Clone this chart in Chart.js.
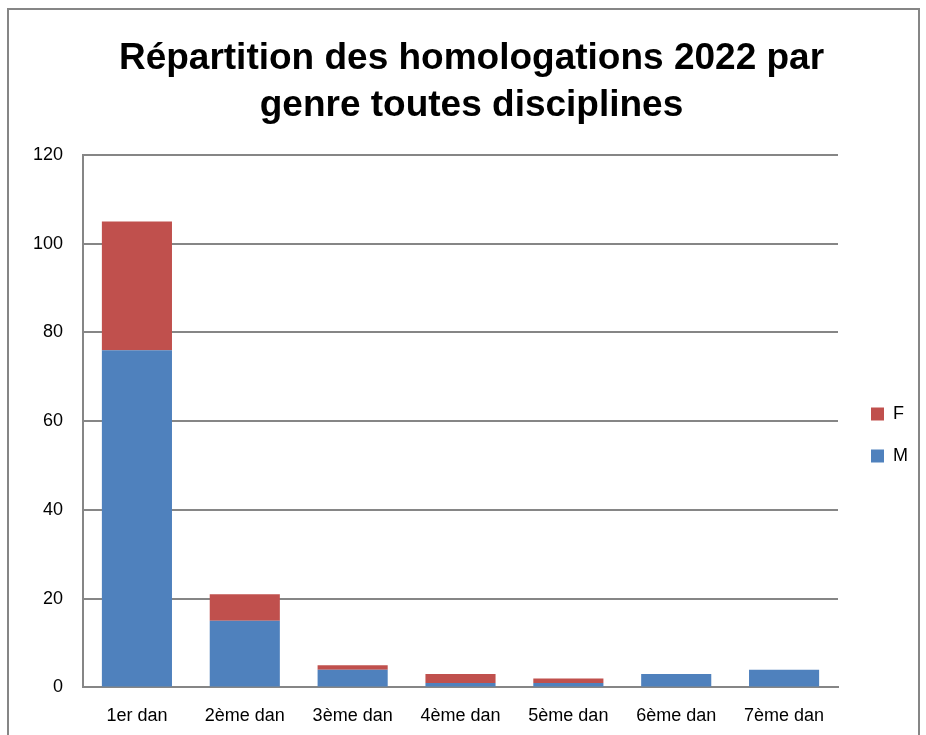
<!DOCTYPE html>
<html>
<head>
<meta charset="utf-8">
<script src="https://cdn.jsdelivr.net/npm/chart.js@4.4.0/dist/chart.umd.min.js"></script>
<style>
  html, body { margin: 0; padding: 0; background: #fff; overflow: hidden; }
  #frame { position: absolute; left: 7px; top: 8px; width: 909px; height: 760px; border: 2px solid #868686; }
  #wrap { position: absolute; left: 0; top: 0; width: 926px; height: 737px; }
</style>
</head>
<body>
<div id="frame"></div>
<div id="wrap"><canvas id="myChart" width="926" height="737"></canvas></div>
<script>
const labels = ['1er dan', '2ème dan', '3ème dan', '4ème dan', '5ème dan', '6ème dan', '7ème dan'];
const valuesM = [76, 15, 4, 1, 1, 3, 4];
const valuesF = [29, 6, 1, 2, 1, 0, 0];
const yTicks = [0, 20, 40, 60, 80, 100, 120];

const fontFamily = "'Liberation Sans Narrow', 'Liberation Sans', sans-serif";
const gridColor = '#868686';

// nudge title and legend sideways, like the spreadsheet layout
const nudge = {
    id: 'nudge',
    afterLayout(chart) {
        chart.titleBlock.left += 17;
        chart.titleBlock.right += 17;
        chart.legend.left += 9;
        chart.legend.right += 9;
    }
};

const data = {
    labels: labels,
    datasets: [
        {
            label: 'M',
            backgroundColor: '#4F81BD',
            data: valuesM,
            barPercentage: 0.65,
            categoryPercentage: 1
        },
        {
            label: 'F',
            backgroundColor: '#C0504D',
            data: valuesF,
            barPercentage: 0.65,
            categoryPercentage: 1
        }
    ]
};

const config = {
    type: 'bar',
    data: data,
    plugins: [nudge],
    options: {
        responsive: false,
        animation: false,
        layout: { padding: { left: 0, right: 17, top: 0, bottom: 0 } },
        plugins: {
            title: {
                display: true,
                text: ['Répartition des homologations 2022 par', 'genre toutes disciplines'],
                color: '#000',
                font: { family: fontFamily, size: 37, weight: 'bold', lineHeight: 1.27 },
                padding: { top: 35, bottom: 26 }
            },
            legend: {
                position: 'right',
                reverse: true,
                title: { display: true, text: '', padding: { top: 121, bottom: 0 }, font: { size: 10 } },
                labels: {
                    color: '#000',
                    boxWidth: 13,
                    boxHeight: 13,
                    padding: 24,
                    font: { family: fontFamily, size: 18 }
                }
            },
            tooltip: { enabled: false }
        },
        scales: {
            x: {
                stacked: true,
                grid: { display: false },
                border: { color: gridColor, width: 2 },
                ticks: { color: '#000', font: { family: fontFamily, size: 18 }, padding: 10, maxRotation: 0 }
            },
            y: {
                stacked: true,
                min: 0,
                max: 120,
                afterBuildTicks: (axis) => { axis.ticks = yTicks.map(v => ({ value: v })); },
                afterFit: (axis) => { axis.width = 83; },
                grid: { color: gridColor, lineWidth: 2, tickLength: 0 },
                border: { color: gridColor, width: 2 },
                ticks: { color: '#000', font: { family: fontFamily, size: 18 }, padding: 20 }
            }
        }
    }
};

new Chart(document.getElementById('myChart'), config);
</script>
</body>
</html>
